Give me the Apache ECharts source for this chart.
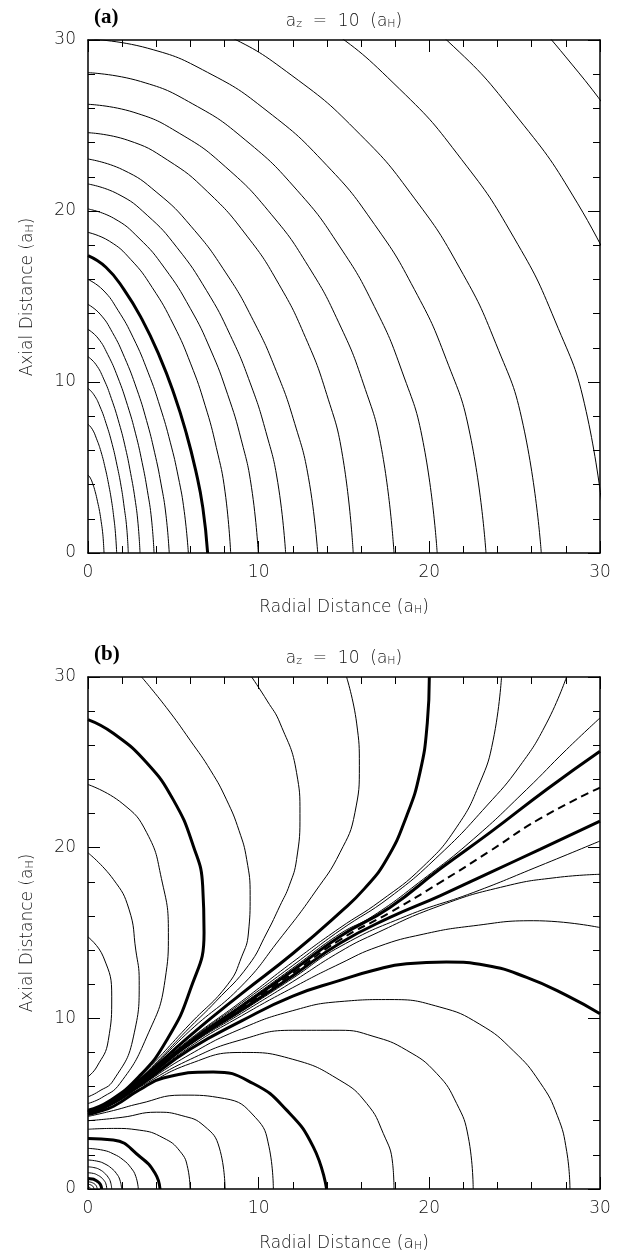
<!DOCTYPE html>
<html>
<head>
<meta charset="utf-8">
<script src="https://cdn.jsdelivr.net/npm/echarts@6/dist/echarts.min.js"></script>
<style>html,body{margin:0;background:#fff}#c{width:631px;height:1254px}</style>
</head>
<body>
<div id="c"></div>
<script>
// panel (a): contour lines, [radial, axial] in a_H
const a1 = [[0,4.56],[.14,4.38],[.28,4.04],[.42,3.59],[.56,3.00],[.68,2.43],[.77,1.85],[.85,1.27],[.90,.69],[.94,0]];
const a2 = [[0,7.53],[.25,7.24],[.50,6.68],[.76,5.93],[1.01,4.96],[1.21,4.01],[1.38,3.05],[1.51,2.09],[1.61,1.14],[1.68,0]];
const a3 = [[0,9.63],[.35,9.25],[.71,8.54],[1.06,7.58],[1.42,6.35],[1.70,5.13],[1.94,3.90],[2.12,2.68],[2.27,1.46],[2.36,0]];
const a4 = [[0,11.48],[.46,11.03],[.92,10.18],[1.37,9.03],[1.83,7.57],[2.20,6.12],[2.50,4.65],[2.75,3.19],[2.93,1.74],[3.05,0]];
const a5 = [[0,13.08],[.58,12.57],[1.16,11.60],[1.74,10.29],[2.32,8.62],[2.79,6.97],[3.17,5.30],[3.48,3.64],[3.72,1.99],[3.87,0]];
const a6 = [[0,14.54],[.71,13.97],[1.43,12.90],[2.14,11.44],[2.86,9.58],[3.43,7.75],[3.90,5.89],[4.28,4.04],[4.57,2.21],[4.76,0]];
const a7 = [[0,16],[.88,15.38],[1.76,14.19],[2.65,12.59],[3.53,10.54],[4.23,8.53],[4.82,6.48],[5.29,4.45],[5.64,2.43],[5.88,0]];
const a8 = [[0,17.39],[1.05,16.71],[2.10,15.42],[3.15,13.69],[4.21,11.46],[5.05,9.27],[5.75,7.04],[6.31,4.83],[6.73,2.64],[7.01,0]];
const a9 = [[0,18.75],[1.25,18.24],[2.51,17.16],[3.76,15.53],[5.02,13.33],[6.02,11.06],[6.86,8.64],[7.52,6.17],[8.03,3.58],[8.36,0]];
const a10 = [[0,20.12],[1.50,19.58],[2.99,18.41],[4.49,16.66],[5.99,14.31],[7.19,11.87],[8.18,9.28],[8.98,6.62],[9.58,3.84],[9.98,0]];
const a11 = [[0,21.58],[1.74,21.00],[3.47,19.75],[5.21,17.87],[6.95,15.34],[8.34,12.73],[9.50,9.95],[10.42,7.10],[11.12,4.12],[11.58,0]];
const a12 = [[0,23.04],[2.02,22.42],[4.04,21.08],[6.06,19.08],[8.08,16.38],[9.69,13.59],[11.04,10.62],[12.11,7.58],[12.92,4.40],[13.46,0]];
const a13 = [[0,24.58],[2.33,24.14],[4.66,22.98],[6.99,21.14],[9.32,18.53],[11.19,15.71],[12.74,12.61],[13.99,9.27],[14.92,5.65],[15.54,0]];
const a14 = [[0,26.24],[2.69,25.77],[5.38,24.53],[8.07,22.57],[10.76,19.78],[12.91,16.77],[14.70,13.46],[16.14,9.89],[17.21,6.04],[17.93,0]];
const a15 = [[0,28.09],[3.07,27.58],[6.14,26.26],[9.21,24.16],[12.28,21.18],[14.73,17.95],[16.78,14.41],[18.41,10.59],[19.64,6.46],[20.46,0]];
const a16 = [[0,30.06],[3.50,29.52],[7.00,28.11],[10.49,25.85],[13.99,22.67],[16.79,19.21],[19.12,15.42],[20.99,11.33],[22.39,6.91],[23.32,0]];
const a17 = [[0,32.47],[3.98,31.88],[7.97,30.36],[11.95,27.92],[15.94,24.48],[19.12,20.75],[21.78,16.66],[23.90,12.24],[25.50,7.47],[26.56,0]];
const a18 = [[4.56,35.35],[9.12,33.66],[13.68,30.96],[18.25,27.14],[21.90,23.0],[24.94,18.47],[27.37,13.57],[29.19,8.28],[30.41,0]];
const a19 = [[10.5,37.21],[15.75,34.23],[21.0,30.01],[25.2,25.43],[28.7,20.42],[31.5,15.0]];
const a20 = [[17.96,37.84],[23.94,33.18],[28.73,28.12],[32.72,22.57]];

// panel (b): closed loops on the axial axis above the saddle
const bP  = [[0,14.77],[0.9,13.6],[1.39,11.26],[1.19,8.71],[0.51,7.15],[0,6.58]];
const bL2 = [[0,19.7],[1.48,18.15],[2.4,16.4],[2.8,14.0],[3.0,12.2],[2.66,8.91],[1.49,6.37],[0.6,5.7],[0,5.4]];
const bL1 = [[0,23.7],[2.0,22.6],[3.44,20.88],[4.3,18.2],[4.71,15.03],[4.51,12.22],[3.44,8.91],[1.87,6.18],[0.8,5.35],[0,5.01]];
const bA  = [[0,27.5],[1.48,26.7],[3.44,24.97],[5.0,22.8],[6.17,20.1],[6.72,17.76],[6.8,15.03],[5.98,11.64],[4.61,8.71],[3,6.6],[1.2,5.12],[0,4.62]];
// fan lines leaving the saddle
const bT1 = [[3.14,30],[4.6,28.2],[5.98,26.3],[7.2,24.5],[8.12,22.8],[8.85,21.0],[9.3,19.3],[9.5,17.2],[9.4,15.0],[9.0,13.6],[8.2,12.0],[6,9.7],[3,6.55],[1.2,5.08],[0,4.58]];
const bT2 = [[9.59,30],[10.5,28.6],[11.25,27.3],[12.22,24.4],[12.42,22.0],[12.22,19.3],[11.8,17.8],[11.25,16.6],[10.47,15.0],[9.4,13.1],[7.5,11.0],[6,9.5],[3,6.45],[1.2,5.06],[0,4.56]];
const bT3 = [[15.15,30],[15.74,27.3],[15.9,24.8],[15.64,22.05],[14.76,19.7],[13.3,17.4],[11.2,14.6],[9,11.9],[6,9.3],[3,6.4],[1.2,5.04],[0,4.55]];
const bF  = [[20,30],[19.88,27.3],[19.45,24.4],[18.67,21.86],[17.5,19.32],[16.2,17.6],[14.76,16.2],[12,13.8],[9,11.45],[6,9.0],[3,6.35],[1.2,5.02],[0,4.54]];
const bG  = [[24.23,30],[23.74,26.3],[22.96,23.8],[21.6,21.2],[19.64,18.9],[17.1,16.85],[14.76,15.3],[12,13.3],[9,11.0],[6,8.8],[3,6.3],[1.2,5.0],[0,4.53]];
const bH  = [[28.04,30],[26.87,27.3],[25.3,24.78],[23.35,22.44],[20.62,19.6],[17.69,17.1],[14.76,15.15],[12,13.1],[9,10.9],[6,8.75],[3,6.28],[1.2,4.99],[0,4.52]];
const bI  = [[30,27.6],[28.04,25.75],[25.7,23.41],[22.57,20.49],[19.64,18.15],[16.7,16.0],[14.76,14.95],[12,12.95],[9,10.8],[6,8.7],[3,6.26],[1.2,4.98],[0,4.52]];
const bJ  = [[30,25.65],[26.87,23.41],[23.55,20.88],[20.62,18.75],[17.69,16.5],[14.76,14.8],[12,12.8],[9,10.7],[6,8.65],[3,6.24],[1.2,4.97],[0,4.51]];
const bK  = [[30,23.52],[26.48,21.7],[23.55,19.8],[20.62,17.95],[17.69,16.2],[14.76,14.6],[12,12.65],[9,10.6],[6,8.6],[3,6.22],[1.2,4.96],[0,4.5]];
const bL  = [[30,21.56],[26.48,19.9],[23.55,18.54],[20.62,17.18],[17.69,15.91],[14.76,14.4],[12,12.5],[9,10.5],[6,8.55],[3,6.2],[1.2,4.95],[0,4.5]];
const bM  = [[30,20.39],[26.48,18.94],[22.57,17.37],[18.67,16.0],[14.76,14.2],[12,12.35],[9,10.4],[6,8.5],[3,6.18],[1.2,4.94],[0,4.49]];
const bN  = [[30,18.44],[27.45,18.25],[24.52,17.76],[20.62,16.6],[16.7,14.9],[14.76,13.9],[12,12.15],[9,10.3],[6,8.45],[3,6.15],[1.2,4.93],[0,4.49]];
const bO  = [[30,15.32],[26.09,15.72],[22.57,15.42],[19.64,14.93],[17,14.2],[14.76,13.2],[12,11.8],[9,10.15],[6,8.35],[3,6.1],[1.2,4.92],[0,4.48]];
const bE  = [[30,10.27],[28.04,11.35],[25.7,12.4],[23.35,13.1],[21,13.3],[18.67,13.2],[16.7,12.8],[14.76,12.22],[12,11.3],[9,9.85],[6,8.2],[3,6.05],[1.2,4.9],[0,4.47]];
const bR1 = [[0,4.45],[1.2,4.88],[3,6.0],[6,7.9],[9,9.4],[12,10.45],[14.76,10.98],[17.69,11.1],[20.62,10.66],[22.96,9.65],[24.92,8.1],[26.48,6.25],[27.5,4.3],[28.05,2.2],[28.24,0]];
const bR2 = [[0,4.42],[1.2,4.86],[3,5.95],[6,7.6],[9,8.75],[12,9.3],[14.76,9.3],[16.7,8.95],[18.67,8.13],[20.43,6.77],[21.6,5.01],[22.28,3.06],[22.57,0]];
const bR3 = [[0,4.4],[1.2,4.84],[3,5.85],[6,7.35],[9,8.0],[12,7.6],[14.76,6.37],[16.33,5.01],[17.3,3.26],[17.85,1.5],[17.93,0]];
const bC  = [[0,4.37],[0.5,4.5],[1.5,4.85],[3,5.8],[4.41,6.5],[7.34,6.86],[9.68,6.18],[11.64,4.62],[13.2,2.47],[13.98,0]];
const bR4 = [[0,4.25],[1.5,4.6],[3,5.0],[5.5,5.5],[8,5.3],[9.8,4.2],[10.6,2.5],[10.86,0]];
const bR5 = [[0,4.0],[2,4.2],[4,4.5],[5.5,4.3],[6.8,3.7],[7.7,2.4],[8.03,0]];
const bR6 = [[0,3.5],[1.5,3.55],[3,3.45],[4.4,3.0],[5.4,2.2],[5.85,1.2],[5.98,0]];
const bD  = [[0,2.96],[1.48,2.87],[3.05,1.89],[3.93,.92],[4.22,0]];
// small arcs round the origin
const bi1 = [[0,2.38],[.89,2.27],[1.48,2.06],[2.07,1.70],[2.51,1.25],[2.80,.74],[2.95,0]];
const bi2 = [[0,1.7],[.59,1.62],[.99,1.47],[1.38,1.21],[1.67,.90],[1.87,.53],[1.97,0]];
const bi3 = [[0,1.3],[.42,1.24],[.70,1.13],[.97,.93],[1.18,.69],[1.32,.41],[1.39,0]];
const bi4 = [[0,.95],[.33,.91],[.55,.82],[.77,.68],[.94,.5],[1.05,.3],[1.1,0]];
const bi5 = [[0,.62],[.24,.59],[.4,.54],[.56,.44],[.68,.33],[.76,.19],[.8,0]];
const bi6 = [[0,.42],[.16,.4],[.27,.36],[.38,.3],[.46,.22],[.51,.13],[.54,0]];
const bi7 = [[0,.27],[.1,.26],[.18,.23],[.25,.19],[.3,.14],[.33,.08],[.35,0]];
const bi8 = [[0,.12],[.05,.11],[.08,.1],[.11,.09],[.13,.06],[.14,.04],[.15,0]];

const tickLabels = ['0', '10', '20', '30'];

const thinA = [a1, a2, a3, a4, a5, a6, a7, a9, a10, a11, a12, a13, a14, a15, a16, a17, a18, a19, a20];
const thickA = [a8];
const thinB = [bP, bL2, bL1, bT1, bT2, bT3, bG, bH, bI, bM, bN, bO, bR1, bR2, bR3, bR4, bR5, bR6, bi1, bi2, bi3, bi4, bi6, bi7, bi8];
const thickB = [bA, bF, bJ, bL, bE, bC, bD, bi5];
const dashedB = [bK];

const FONT = '"DejaVu Sans", "Liberation Sans", sans-serif';
const chart = echarts.init(document.getElementById('c'));

const axisCommon = {
  type: 'value', min: 0, max: 30, interval: 10,
  axisLine: { show: true, onZero: false, lineStyle: { color: '#000', width: 1.5 } },
  axisTick: { show: true, inside: true, length: 12, lineStyle: { color: '#000', width: 1 } },
  minorTick: { show: true, splitNumber: 5, length: 7, lineStyle: { color: '#000', width: 1 } },
  splitLine: { show: false },
};
const lbl = { show: true, fontSize: 17, color: '#111', fontFamily: FONT, fontWeight: 300,
  formatter: v => tickLabels[v / 10] };

function axes(g) {
  return {
    x: [
      { ...axisCommon, gridIndex: g, position: 'bottom', axisLabel: { ...lbl, margin: 11 } },
      { ...axisCommon, gridIndex: g, position: 'top', axisLabel: { show: false } },
    ],
    y: [
      { ...axisCommon, gridIndex: g, position: 'left', axisLabel: { ...lbl, margin: 12 } },
      { ...axisCommon, gridIndex: g, position: 'right', axisLabel: { show: false } },
    ],
  };
}
const ax0 = axes(0), ax1 = axes(1);

// smooth curves through the read points; the axis box clips what runs past 30
function line(data, g, width, dashed) {
  return {
    type: 'line', xAxisIndex: g * 2, yAxisIndex: g * 2, data,
    symbol: 'none', smooth: 0.5, clip: true, silent: true,
    lineStyle: { color: '#000', width, type: dashed ? [8, 5] : 'solid' },
  };
}

const series = [
  ...thinA.map(d => line(d, 0, 1)),
  ...thickA.map(d => line(d, 0, 3)),
  ...thinB.map(d => line(d, 1, 1)),
  ...thickB.map(d => line(d, 1, 3)),
  ...dashedB.map(d => line(d, 1, 2, true)),
];

const rich = {
  n: { fontSize: 17, fontFamily: FONT, fontWeight: 300, fill: '#111', lineHeight: 24, verticalAlign: 'bottom' },
  s: { fontSize: 11, fontFamily: FONT, fontWeight: 300, fill: '#111', lineHeight: 18, verticalAlign: 'bottom' },
};
function txt(x, y, text, rot) {
  return {
    type: 'text', x, y, rotation: rot || 0,
    style: { text, rich, fill: '#111', align: 'center', verticalAlign: 'middle',
      textAlign: 'center', textVerticalAlign: 'middle' },
  };
}
function tag(x, y, text) {
  return {
    type: 'text', x, y,
    style: { text, fill: '#000', font: 'bold 21px "Liberation Serif", serif', align: 'left', verticalAlign: 'middle' },
  };
}

chart.setOption({
  animation: false,
  grid: [
    { left: 88, top: 40, width: 512, height: 513 },
    { left: 88, top: 677, width: 512, height: 512 },
  ],
  xAxis: [...ax0.x, ...ax1.x],
  yAxis: [...ax0.y, ...ax1.y],
  series,
  graphic: [
    tag(94, 18, '(a)'),
    txt(344, 18, '{n|a}{s|z}{n|  =  10  (a}{s|H}{n|)}'),
    txt(344, 604, '{n|Radial Distance (a}{s|H}{n|)}'),
    txt(24, 297, '{n|Axial Distance (a}{s|H}{n|)}', Math.PI / 2),
    tag(94, 655, '(b)'),
    txt(344, 655, '{n|a}{s|z}{n|  =  10  (a}{s|H}{n|)}'),
    txt(344, 1240, '{n|Radial Distance (a}{s|H}{n|)}'),
    txt(24, 933, '{n|Axial Distance (a}{s|H}{n|)}', Math.PI / 2),
  ],
});
</script>
</body>
</html>
